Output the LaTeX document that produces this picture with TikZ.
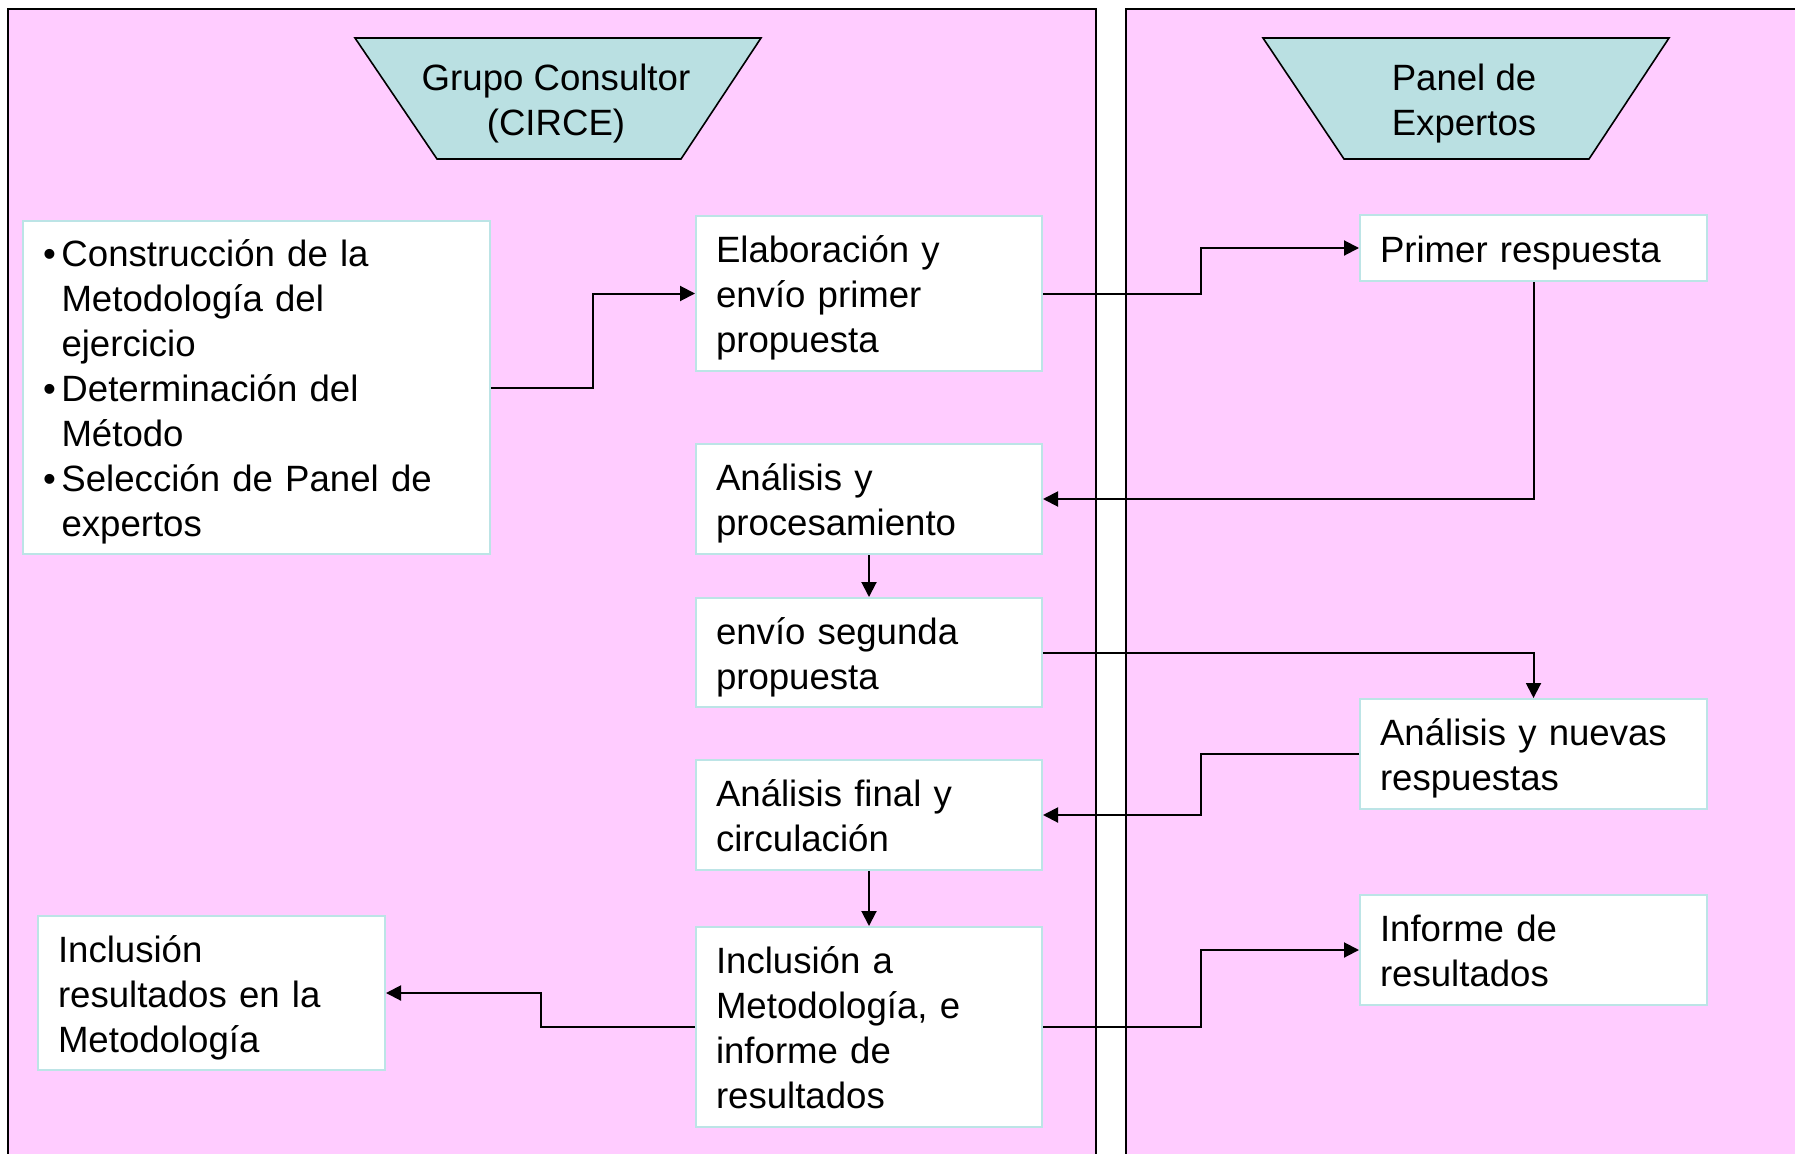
\documentclass[tikz,border=0pt]{standalone}
\usepackage{fontspec}
\setmainfont{Liberation Sans}
\usetikzlibrary{arrows.meta,calc}

\definecolor{lanepink}{RGB}{255,204,255}
\definecolor{headblue}{RGB}{186,224,226}
\definecolor{boxline}{RGB}{188,228,230}

% struts that give every text block the same top and bottom extent
\newcommand{\topstrut}{\rule{0pt}{40pt}}
\newcommand{\botstrut}{\rule[-12pt]{0pt}{12pt}}

\tikzset{
  lane/.style={draw=black, line width=2pt, fill=lanepink},
  header/.style={draw=black, line width=1.6pt, fill=headblue},
  headtext/.style={align=center, inner sep=0pt, font=\fontsize{36.6pt}{45pt}\selectfont},
  stepbox/.style={draw=boxline, line width=2pt, fill=white, align=left,
    inner xsep=20pt, inner ysep=0pt, font=\fontsize{36.6pt}{45pt}\selectfont,
    execute at begin node=\topstrut, execute at end node=\botstrut},
  conn/.style={draw=black, line width=2pt, -{Triangle[length=15pt,width=15pt]}},
}

\newcommand{\bul}{\makebox[18.5pt][l]{•}}
\newcommand{\ind}{\hspace*{18.5pt}}

\begin{document}
\begin{tikzpicture}[x=1pt,y=-1pt]
\useasboundingbox (0,0) rectangle (1795,1153);
\clip (0,0) rectangle (1795,1153);

% swim lanes
\fill[white] (0,0) rectangle (1795,1153);
\path[lane] (8,9) rectangle (1096,1170);
\path[lane] (1126,9) rectangle (1820,1170);

% lane headers
\path[header] (355,38) -- (761,38) -- (681,159) -- (437,159) -- cycle;
\node[headtext] (grupo) at (556,103.5) {Grupo Consultor\\(CIRCE)};
\path[header] (1263,38) -- (1669,38) -- (1589,159) -- (1344,159) -- cycle;
\node[headtext] (panel) at (1464,103.5) {Panel de\\Expertos};

% process steps, consulting group
\node[stepbox, text width=427pt, minimum height=333pt] (A) at (256.5,387.5)
  {\bul Construcción de la\\\ind Metodología del\\\ind ejercicio\\
   \bul Determinación del\\\ind Método\\
   \bul Selección de Panel de\\\ind expertos};
\node[stepbox, text width=306pt, minimum height=155pt] (B) at (869,293.5)
  {Elaboración y\\envío primer\\propuesta};
\node[stepbox, text width=306pt, minimum height=110pt] (C) at (869,499)
  {Análisis y\\procesamiento};
\node[stepbox, text width=306pt, minimum height=109pt] (D) at (869,652.5)
  {envío segunda\\propuesta};
\node[stepbox, text width=306pt, minimum height=110pt] (E) at (869,815)
  {Análisis final y\\circulación};
\node[stepbox, text width=306pt, minimum height=200pt] (F) at (869,1027)
  {Inclusión a\\Metodología, e\\informe de\\resultados};
\node[stepbox, text width=307pt, minimum height=154pt] (G) at (211.5,993)
  {Inclusión\\resultados en la\\Metodología};

% process steps, expert panel
\node[stepbox, text width=307pt, minimum height=66pt] (H) at (1533.5,248)
  {Primer respuesta};
\node[stepbox, text width=307pt, minimum height=110pt] (I) at (1533.5,754)
  {Análisis y nuevas\\respuestas};
\node[stepbox, text width=307pt, minimum height=110pt] (J) at (1533.5,950)
  {Informe de\\resultados};

% connectors
\draw[conn] (A.east) -| ($(A.east)!0.5!(B.west)$) |- (B.west);
\draw[conn] (B.east) -| ($(B.east)!0.5!(H.west)$) |- (H.west);
\draw[conn] (H.south) |- (C.east);
\draw[conn] (C.south) -- (D.north);
\draw[conn] (D.east) -| (I.north);
\draw[conn] (I.west) -| ($(I.west)!0.5!(E.east)$) |- (E.east);
\draw[conn] (E.south) -- (F.north);
\draw[conn] (F.west) -| ($(F.west)!0.5!(G.east)$) |- (G.east);
\draw[conn] (F.east) -| ($(F.east)!0.5!(J.west)$) |- (J.west);
\end{tikzpicture}
\end{document}
